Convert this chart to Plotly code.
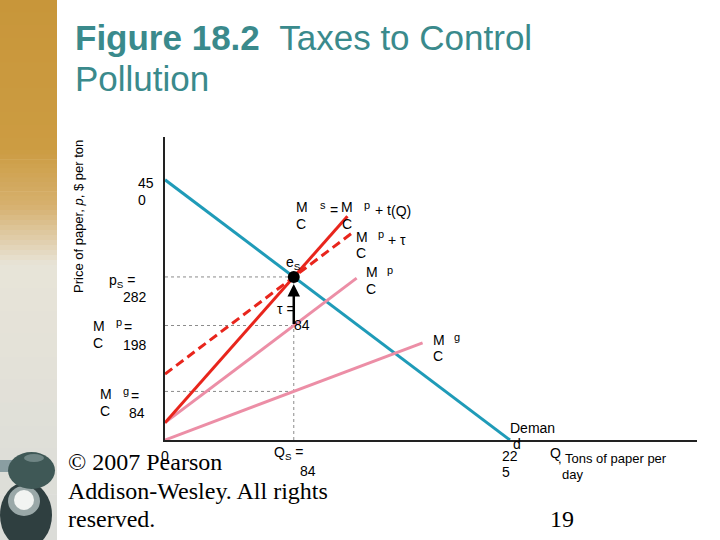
import plotly.graph_objects as go

# ---------------- data ----------------
demand_q = [0, 225]
demand_p = [450, 0]
mcs_q = [0, 119]
mcs_p = [30, 387]
mcp_tau_q = [0, 122]
mcp_tau_p = [114, 358]
mcp_q = [0, 125]
mcp_p = [30, 280]
mcg_q = [0, 168]
mcg_p = [0, 168]
Qs = 84
ps = 282
mcp_at_qs = 198
mcg_at_qs = 84
tau = 84

TEAL = "#1f9bb8"
RED = "#e8251c"
PINK = "#ec8ea6"
DOT = "#8c8c8c"

fig = go.Figure()

# dotted guides
for level in [ps, mcp_at_qs, mcg_at_qs]:
    fig.add_trace(go.Scatter(x=[0, Qs], y=[level, level], mode="lines",
                             line=dict(color=DOT, width=1, dash="dot"), hoverinfo="skip"))
fig.add_trace(go.Scatter(x=[Qs, Qs], y=[0, ps], mode="lines",
                         line=dict(color=DOT, width=1, dash="dot"), hoverinfo="skip"))

fig.add_trace(go.Scatter(x=demand_q, y=demand_p, mode="lines", line=dict(color=TEAL, width=3)))
fig.add_trace(go.Scatter(x=mcg_q, y=mcg_p, mode="lines", line=dict(color=PINK, width=3)))
fig.add_trace(go.Scatter(x=mcp_q, y=mcp_p, mode="lines", line=dict(color=PINK, width=3)))
fig.add_trace(go.Scatter(x=mcp_tau_q, y=mcp_tau_p, mode="lines",
                         line=dict(color=RED, width=3, dash="9px,5px")))
fig.add_trace(go.Scatter(x=mcs_q, y=mcs_p, mode="lines", line=dict(color=RED, width=3)))
fig.add_trace(go.Scatter(x=[Qs], y=[ps], mode="markers", marker=dict(color="black", size=12)))

# ---------------- layout helpers ----------------
L, T, W, H = 165, 137, 532, 303


def px(x):
    return (x - L) / W


def py(y):
    return (T + H - y) / H


anns = []


def lab(text, x, y, size=14, family="Liberation Sans, Arial, sans-serif", color="black",
        anchor="left", angle=0):
    anns.append(dict(text=text, x=px(x), y=py(y), xref="paper", yref="paper",
                     xanchor=anchor, yanchor="middle", showarrow=False, textangle=angle,
                     font=dict(size=size, family=family, color=color)))


# left-side labels
lab("45", 136, 183)
lab("0", 136, 200)
lab("p<sub>S</sub> =", 107, 281)
lab("282", 121, 297)
lab("M", 91, 326); lab("p", 114, 322, 11); lab("=", 122, 327)
lab("C", 91, 343); lab("198", 121, 345)
lab("M", 98, 394); lab("g", 121, 391, 11); lab("=", 129, 396)
lab("C", 98, 411); lab("84", 127, 413)
lab("Price of paper, <i>p</i>, $ per ton", 78, 217, 13, anchor="center", angle=-90)

# bottom labels
lab("0", 159, 456)
lab("Q<sub>S</sub> =", 272, 453)
lab("84", 298, 471)
lab("22", 500, 456)
lab("5", 500, 472)
lab("Q", 548, 453)
lab(", Tons of paper per", 556, 458, 13)
lab("day", 560, 474, 13)
lab("Deman", 508, 428)
lab("d", 511, 444)

# curve labels
lab("M", 294, 207); lab("s", 318, 205, 11); lab("=", 328, 210); lab("M", 339, 207)
lab("p", 362, 205, 11); lab("+ t", 373, 210); lab("(Q)", 389, 211)
lab("C", 294, 224); lab("C", 340, 224)
lab("M", 354, 237); lab("p", 376, 234, 11); lab("+ τ", 386, 240); lab("C", 354, 253)
lab("e<sub>S</sub>", 284, 263)
lab("M", 364, 272); lab("p", 385, 270, 11); lab("C", 364, 289)
lab("M", 431, 340); lab("g", 452, 337, 11); lab("C", 431, 356)
lab("τ =", 275, 309)
lab("84", 292, 325)

# title
lab("<b>Figure 18.2</b>\u00a0\u00a0Taxes to Control", 73, 37, 35, color="#3a8a8c")
lab("Pollution", 73, 79, 35, color="#3a8a8c")

# footer
serif = "Liberation Serif, Times New Roman, serif"
lab("© 2007 Pearson", 66, 462, 24, serif)
lab("Addison-Wesley. All rights", 66, 491, 24, serif)
lab("reserved.", 66, 519, 24, serif)
lab("19", 548, 519, 24, serif)

# arrow for tau
anns.append(dict(x=Qs, y=ps, ax=Qs, ay=mcp_at_qs, xref="x", yref="y", axref="x", ayref="y",
                 showarrow=True, arrowhead=2, arrowsize=1, arrowwidth=2.5, arrowcolor="black",
                 standoff=7, text=""))

# ---------------- decorative left strip ----------------
shapes = []


def lerp(c1, c2, t):
    return "rgb(%d,%d,%d)" % tuple(round(a + (b - a) * t) for a, b in zip(c1, c2))


stops = [(0, (200, 150, 58)), (150, (204, 156, 66)), (205, (214, 176, 110)),
         (265, (232, 228, 216)), (540, (218, 220, 216))]
for i in range(len(stops) - 1):
    y0, c0 = stops[i]
    y1, c1 = stops[i + 1]
    n = 12
    for k in range(n):
        a = y0 + (y1 - y0) * k / n
        b = y0 + (y1 - y0) * (k + 1) / n + 0.6
        shapes.append(dict(type="rect", xref="paper", yref="paper", x0=px(0), x1=px(57),
                           y0=py(b), y1=py(a), fillcolor=lerp(c0, c1, (k + 0.5) / n),
                           line=dict(width=0), layer="below"))


def circ(x0, x1, y0, y1, color):
    shapes.append(dict(type="circle", xref="paper", yref="paper", x0=px(x0), x1=px(x1),
                       y0=py(y1), y1=py(y0), fillcolor=color, line=dict(width=0)))


shapes.append(dict(type="rect", xref="paper", yref="paper", x0=px(0), x1=px(12), y0=py(472), y1=py(460),
                   fillcolor="#8a9ea2", line=dict(width=0)))
circ(0, 52, 482, 548, "#2f3f40")
circ(8, 40, 486, 516, "#9aa8a8")
circ(14, 34, 490, 510, "#f2f4f2")
circ(8, 55, 452, 489, "#3f5856")
circ(24, 44, 454, 462, "#6f8584")

fig.update_layout(
    width=720, height=540,
    margin=dict(l=L, r=720 - L - W, t=T, b=540 - T - H),
    paper_bgcolor="white", plot_bgcolor="white",
    showlegend=False,
    xaxis=dict(range=[0, 347], showgrid=False, zeroline=False, showticklabels=False, ticks="",
               showline=True, linecolor="#222", linewidth=2, fixedrange=True),
    yaxis=dict(range=[0, 524], showgrid=False, zeroline=False, showticklabels=False, ticks="",
               showline=True, linecolor="#222", linewidth=2, fixedrange=True),
    annotations=anns,
    shapes=shapes,
)

fig.write_html("out.html", config=dict(displayModeBar=False))
